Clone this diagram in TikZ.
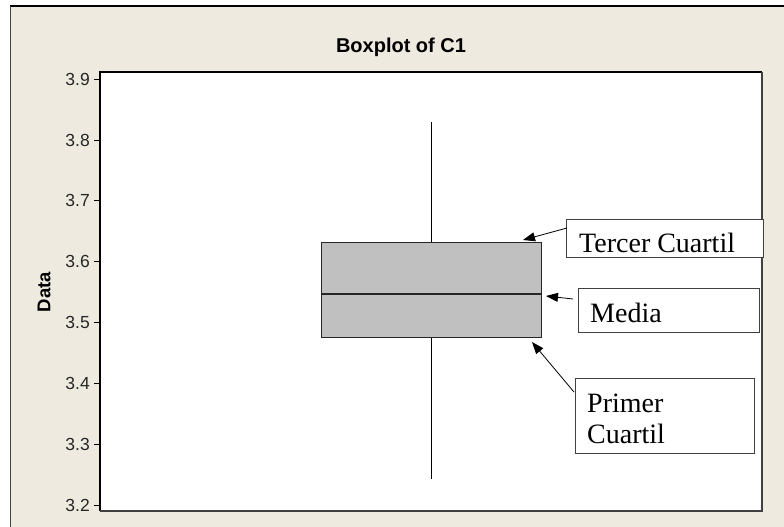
\documentclass[tikz,border=0pt]{standalone}
\usepackage{fontspec}
\setmainfont{Liberation Serif}
\setsansfont{Liberation Sans}
\usetikzlibrary{arrows.meta}
\definecolor{panelbg}{HTML}{EEEAE0}
\definecolor{boxfill}{HTML}{C0C0C0}
\definecolor{framegray}{HTML}{404040}
\tikzset{
  ticklabel/.style={anchor=east, inner sep=0pt, font=\sffamily\fontsize{17.5}{17.5}\selectfont, text=black!85},
  note/.style={draw=framegray, line width=1pt, fill=white, inner sep=0pt, anchor=north west},
  notetext/.style={inner sep=0pt, font=\rmfamily\fontsize{28}{31}\selectfont},
  pointer/.style={-{Triangle[length=12pt,width=9pt]}, line width=0.8pt},
}
\begin{document}
\begin{tikzpicture}[x=1pt,y=-1pt]
  \useasboundingbox (0,0) rectangle (784,527);
  % panel background and outer frame
  \fill[panelbg] (10,6) rectangle (784,527);
  \draw[black, line width=1.5pt] (10,6) -- (784,6);
  \draw[framegray, line width=1pt] (10,6) -- (10,527);
  % plotting region
  \fill[white] (100,72) rectangle (762,511);
  \draw[black, line width=1.2pt] (100,511) -- (100,72) -- (762,72);
  \draw[framegray, line width=2pt] (762,72) -- (762,511) -- (100,511);
  % title and axis label
  \node[font=\sffamily\bfseries\fontsize{20}{20}\selectfont] (title) at (401,47) {Boxplot of C1};
  \node[font=\sffamily\bfseries\fontsize{18.5}{18.5}\selectfont, rotate=90] (ylab) at (44,292) {Data};
  % y ticks: value v at y = 505 - (v-3.2)*608.3
  \foreach \v/\lab in {0/3.2,1/3.3,2/3.4,3/3.5,4/3.6,5/3.7,6/3.8,7/3.9}{
    \draw[line width=1pt] (94,{505-\v*60.83}) -- (100,{505-\v*60.83});
    \node[ticklabel] (tick\v) at (90,{505-\v*60.83}) {\lab};
  }
  % whiskers
  \coordinate (wtop) at (431,122);
  \coordinate (wbot) at (431,479);
  \draw[line width=1pt] (wtop) -- (431,242);
  \draw[line width=1pt] (431,337) -- (wbot);
  % interquartile box with median line
  \node[draw=black!85, fill=boxfill, line width=1.2pt, minimum width=220pt, minimum height=95pt,
        inner sep=0pt, anchor=north west] (iqr) at (321,242) {};
  \draw[line width=1.2pt, black!85] (iqr.west |- 0,294) -- (iqr.east |- 0,294);
  \coordinate (q3pt) at (523,240);
  \coordinate (medpt) at (546,296);
  \coordinate (q1pt) at (532,342);
  % annotation boxes
  \node[note, minimum width=197pt, minimum height=38pt] (q3box) at (566,219) {};
  \node[notetext, anchor=base west] (q3text) at (579,252) {Tercer Cuartil};
  \node[note, minimum width=181pt, minimum height=44pt] (medbox) at (578,288) {};
  \node[notetext, anchor=base west] (medtext) at (590,322) {Media};
  \node[note, minimum width=179pt, minimum height=75pt] (q1box) at (575,378) {};
  \node[notetext, anchor=base west, align=left] (q1text) at (587,443) {Primer\\Cuartil};
  % pointers
  \draw[pointer] (567,228) -- (q3pt);
  \draw[pointer] (573,299) -- (medpt);
  \draw[pointer] (574,392) -- (q1pt);
\end{tikzpicture}
\end{document}
